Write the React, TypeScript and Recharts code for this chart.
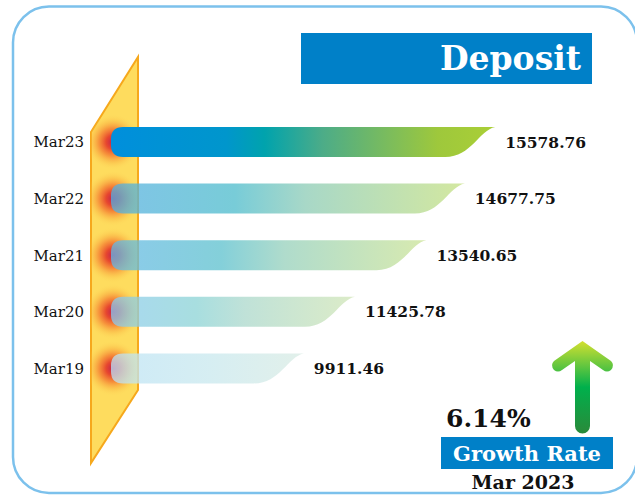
import React from 'react';
import { BarChart, Bar, XAxis, YAxis, LabelList } from 'recharts';

const categories = ['Mar19', 'Mar20', 'Mar21', 'Mar22', 'Mar23'];
const deposits = [9911.46, 11425.78, 13540.65, 14677.75, 15578.76];
const growthRate = '6.14%';
const growthPeriod = 'Mar 2023';
const chartTitle = 'Deposit';

const data = categories.map((name, i) => ({ name, value: deposits[i] }));

// gradient stops per bar (same order as categories): [offset, colour, opacity]
const barStops: [number, string, number][][] = [
  [[0, '#bce3f5', 0.75], [0.5, '#c8e8ee', 0.75], [1, '#d8ebe3', 0.75]],
  [[0, '#8bcbed', 0.75], [0.35, '#8bd3d5', 0.75], [0.55, '#abd8cb', 0.75], [1, '#d0e5b5', 0.75]],
  [[0, '#65b9e5', 0.75], [0.35, '#5bc0cd', 0.75], [0.55, '#95d0bb', 0.75], [1, '#cbe395', 0.75]],
  [[0, '#55b0e0', 0.75], [0.35, '#4bbbcb', 0.75], [0.55, '#8bcbb5', 0.75], [1, '#c5e080', 0.75]],
  [[0, '#008fdc', 1], [0.3, '#0096cc', 1], [0.4, '#00a3ad', 1], [0.55, '#4cac88', 1], [0.85, '#9ec83c', 1], [1, '#aacf36', 1]],
];

const serif = '"DejaVu Serif", serif';

const BarShape = (props: any) => {
  const { x, y, width, height, index } = props;
  const yb = y + height;
  const xe = x + width;
  const r = 12;
  const tail = 50;
  const d = [
    `M ${x + r} ${y}`,
    `L ${xe} ${y}`,
    `C ${xe - 16} ${y + 3} ${xe - 24} ${yb} ${xe - tail} ${yb}`,
    `L ${x + r} ${yb}`,
    `Q ${x} ${yb} ${x} ${yb - r}`,
    `L ${x} ${y + r}`,
    `Q ${x} ${y} ${x + r} ${y}`,
    'Z',
  ].join(' ');
  return (
    <g>
      <circle cx={x + 2} cy={y + height / 2} r={28} fill="url(#glow)" clipPath="url(#paraClip)" />
      <path d={d} fill={`url(#barGrad${index})`} />
    </g>
  );
};

const CategoryTick = (props: any) => {
  const { x, y, payload } = props;
  return (
    <text x={x} y={y} dy={5} textAnchor="end" fontFamily={serif} fontSize={15} fill="#111">
      {payload.value}
    </text>
  );
};

const para = '91,132 138,57 138,390 91,463';

export default function App() {
  return (
    <div style={{ position: 'fixed', left: 0, top: 0, width: 635, height: 495, background: '#fff', overflow: 'hidden' }}>
      <svg width={635} height={495} style={{ position: 'absolute', left: 0, top: 0 }}>
        <rect x={13} y={6.5} width={624} height={486.5} rx={36} fill="none" stroke="#7cc1ec" strokeWidth={2.5} />
        <polygon points={para} fill="#fedc5e" stroke="#f6a81c" strokeWidth={2} />
        <rect x={301} y={33} width={291} height={51} fill="#0080c8" />
        <text x={581} y={70} textAnchor="end" fontFamily={serif} fontWeight="bold" fontSize={33} fill="#fff">
          {chartTitle}
        </text>
      </svg>

      <div style={{ position: 'absolute', left: 0, top: 0 }}>
        <BarChart
          width={635}
          height={495}
          data={data}
          layout="vertical"
          margin={{ top: 114, right: 58, bottom: 98, left: 20 }}
          barSize={30}
        >
          <defs>
            {barStops.map((stops, i) => (
              <linearGradient key={i} id={`barGrad${i}`} x1="0" y1="0" x2="1" y2="0">
                {stops.map(([o, c, a], j) => (
                  <stop key={j} offset={o} stopColor={c} stopOpacity={a} />
                ))}
              </linearGradient>
            ))}
            <radialGradient id="glow">
              <stop offset="0" stopColor="#c02050" stopOpacity={1} />
              <stop offset="0.25" stopColor="#e6402c" stopOpacity={0.95} />
              <stop offset="0.5" stopColor="#f47a30" stopOpacity={0.75} />
              <stop offset="0.75" stopColor="#f9b040" stopOpacity={0.4} />
              <stop offset="1" stopColor="#fedc5e" stopOpacity={0} />
            </radialGradient>
            <clipPath id="paraClip">
              <polygon points={para} />
            </clipPath>
          </defs>
          <XAxis type="number" domain={[4200, 18000]} hide />
          <YAxis
            type="category"
            dataKey="name"
            reversed
            width={91}
            axisLine={false}
            tickLine={false}
            tickSize={0}
            tickMargin={27}
            tick={<CategoryTick />}
          />
          <Bar dataKey="value" shape={<BarShape />} isAnimationActive={false}>
            <LabelList
              dataKey="value"
              position="right"
              offset={10}
              formatter={(v: any) => Number(v).toFixed(2)}
              style={{ fontFamily: serif, fontWeight: 'bold', fontSize: 15.5, fill: '#111' }}
            />
          </Bar>
        </BarChart>
      </div>

      <svg width={635} height={495} style={{ position: 'absolute', left: 0, top: 0, pointerEvents: 'none' }}>
        <defs>
          <linearGradient id="arrowGrad" x1="0" y1="0" x2="0" y2="1">
            <stop offset="0" stopColor="#d4e030" />
            <stop offset="0.5" stopColor="#00b04c" />
            <stop offset="1" stopColor="#2a8a3a" />
          </linearGradient>
        </defs>
        <path
          d="M 582.5 341 L 611 361 Q 615 365 611 370 Q 607 373 603 370 L 590 361 L 590 426 A 7.5 7.5 0 0 1 575 426 L 575 361 L 562 370 Q 558 373 554 370 Q 550 365 554 361 Z"
          fill="url(#arrowGrad)"
        />
        <text x={446} y={427} fontFamily={serif} fontWeight="bold" fontSize={25} fill="#111">
          {growthRate}
        </text>
        <rect x={441} y={437} width={172} height={32} fill="#0080c8" />
        <text x={527} y={461} textAnchor="middle" fontFamily={serif} fontWeight="bold" fontSize={21} fill="#fff">
          Growth Rate
        </text>
        <text x={523} y={489} textAnchor="middle" fontFamily={serif} fontWeight="bold" fontSize={19} fill="#111">
          {growthPeriod}
        </text>
      </svg>
    </div>
  );
}
